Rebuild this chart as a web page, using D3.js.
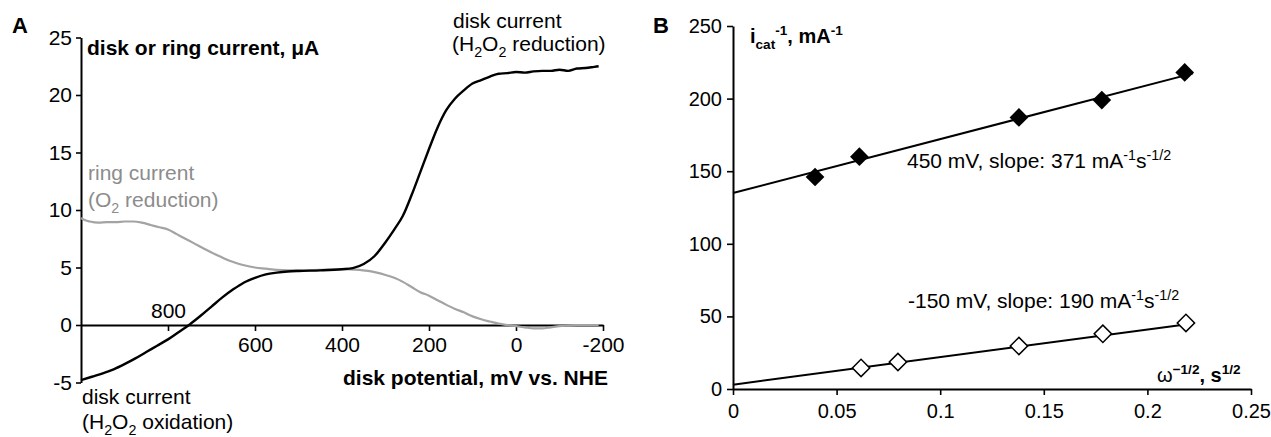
<!DOCTYPE html>
<html>
<head>
<meta charset="utf-8">
<script src="https://cdn.jsdelivr.net/npm/d3@7"></script>
<style>
  body { margin: 0; background: #fff; }
  svg { font-family: "Liberation Sans", Arial, sans-serif; }
</style>
</head>
<body>
<div id="chart"></div>
<script>
// ---- panel A: disk potential (mV vs NHE) and currents (uA)
var diskPotential = [1000, 975, 950, 925, 900, 875, 850, 825, 800, 775, 750, 725, 700, 675, 650, 625, 600, 575, 550, 525, 500, 450, 400, 375, 350, 325, 300, 280, 260, 240, 220, 200, 180, 160, 140, 120, 100, 80, 60, 40, 20, 0, -20, -40, -60, -80, -100, -120, -140, -160, -180, -190];
var diskCurrent = [-4.8, -4.5, -4.2, -3.85, -3.4, -2.9, -2.35, -1.8, -1.25, -0.6, 0.05, 0.8, 1.6, 2.4, 3.1, 3.7, 4.1, 4.4, 4.55, 4.65, 4.7, 4.75, 4.85, 4.95, 5.3, 6.0, 7.2, 8.3, 9.5, 11.3, 13.3, 15.3, 17.2, 18.7, 19.7, 20.4, 21.0, 21.3, 21.6, 21.85, 21.9, 22.0, 21.95, 22.05, 22.1, 22.1, 22.2, 22.1, 22.3, 22.35, 22.45, 22.5];

var ringPotential = [1000, 990, 980, 960, 940, 920, 900, 880, 860, 840, 820, 800, 780, 760, 740, 720, 700, 680, 660, 640, 620, 600, 575, 550, 500, 450, 400, 360, 340, 320, 300, 280, 260, 240, 220, 200, 180, 160, 140, 120, 100, 80, 60, 40, 20, 0, -20, -40, -60, -80, -100, -120, -140, -190];
var ringCurrent = [9.3, 9.1, 9.0, 8.9, 8.95, 8.95, 9.0, 9.0, 8.9, 8.7, 8.5, 8.3, 7.9, 7.5, 7.1, 6.7, 6.3, 5.95, 5.6, 5.35, 5.15, 5.0, 4.9, 4.8, 4.75, 4.8, 4.85, 4.8, 4.7, 4.55, 4.35, 4.1, 3.75, 3.3, 2.85, 2.55, 2.15, 1.75, 1.4, 1.1, 0.75, 0.5, 0.3, 0.12, 0.0, -0.1, -0.2, -0.3, -0.3, -0.2, -0.1, -0.05, 0, 0];

var aXTicks = [800, 600, 400, 200, 0, -200];
var aYTicks = [-5, 0, 5, 10, 15, 20, 25];

// ---- panel B: Koutecky-Levich plot
var omega450 = [0.0396, 0.061, 0.138, 0.178, 0.218];
var inv450 = [146, 160, 187, 199, 218];
var omega150 = [0.0618, 0.0796, 0.138, 0.1785, 0.2186];
var inv150 = [14.5, 18.6, 29.6, 38, 45.5];
var fitIntercept = [135, 3];     // 450 mV, -150 mV
var fitSlope = [371, 190];
var fitEnd = 0.222;

var bXTicks = [0, 0.05, 0.1, 0.15, 0.2, 0.25];
var bYTicks = [0, 50, 100, 150, 200, 250];

var W = 1271, H = 437;
var svg = d3.select("#chart").append("svg")
    .attr("width", W)
    .attr("height", H);

// helper for text with sub/superscripts: parts = [[text, "n"|"sub"|"sup"], ...]
function richText(g, x, y, parts, size, weight, fill) {
    var t = g.append("text")
        .attr("x", x)
        .attr("y", y)
        .attr("font-size", size + "px")
        .attr("font-weight", weight)
        .attr("fill", fill || "#000");
    var shift = 0;
    parts.forEach(function(p) {
        var target = p[1] == "sub" ? size * 0.3 : (p[1] == "sup" ? -size * 0.4 : 0);
        t.append("tspan")
            .attr("dy", target - shift)
            .attr("font-size", (p[1] == "n" ? size : size * 0.68) + "px")
            .attr("font-weight", p[2] || null)
            .text(p[0]);
        shift = target;
    });
    return t;
}

function styleAxis(g, size) {
    g.select(".domain").attr("stroke", "#000").attr("stroke-width", 2);
    g.selectAll(".tick line").attr("stroke", "#000").attr("stroke-width", 1.6);
    g.selectAll(".tick text")
        .attr("fill", "#000")
        .attr("font-size", size + "px")
        .attr("font-family", "Liberation Sans, Arial, sans-serif");
}

// plain hyphen for negatives, like the original figure
var plain = function(d) { return String(d); };

// ================= panel A =================
var xA = d3.scaleLinear().domain([1000, -200]).range([81, 603]);
var yA = d3.scaleLinear().domain([-5, 25]).range([382.5, 37.5]);

var gA = svg.append("g");

var axAy = gA.append("g")
    .attr("transform", "translate(" + xA(1000) + ",0)")
    .call(d3.axisLeft(yA).tickValues(aYTicks).tickSize(5).tickSizeOuter(0).tickPadding(4).tickFormat(plain));
styleAxis(axAy, 21);

var axAx = gA.append("g")
    .attr("transform", "translate(0," + yA(0) + ")")
    .call(d3.axisBottom(xA).tickValues(aXTicks).tickSize(6).tickSizeOuter(0).tickPadding(6).tickFormat(plain));
styleAxis(axAx, 21);
// the 800 label sits above the axis
axAx.selectAll(".tick text").filter(function(d) { return d == 800; })
    .attr("y", -7).attr("dy", 0);

var lineA = d3.line().curve(d3.curveMonotoneX);

gA.append("path")
    .attr("d", lineA(ringPotential.map(function(p, i) { return [xA(p), yA(ringCurrent[i])]; })))
    .attr("fill", "none")
    .attr("stroke", "#a3a3a3")
    .attr("stroke-width", 2.2);

gA.append("path")
    .attr("d", lineA(diskPotential.map(function(p, i) { return [xA(p), yA(diskCurrent[i])]; })))
    .attr("fill", "none")
    .attr("stroke", "#000")
    .attr("stroke-width", 2.4);

// labels
gA.append("text").attr("x", 12).attr("y", 33)
    .attr("font-size", "22px").attr("font-weight", "bold").text("A");
gA.append("text").attr("x", 87).attr("y", 55)
    .attr("font-size", "21px").attr("font-weight", "bold").text("disk or ring current, \u03bcA");
gA.append("text").attr("x", 343).attr("y", 385)
    .attr("font-size", "21px").attr("font-weight", "bold").text("disk potential, mV vs. NHE");

gA.append("text").attr("x", 88).attr("y", 180)
    .attr("font-size", "21px").attr("fill", "#8c8c8c").text("ring current");
richText(gA, 88, 207, [["(O", "n"], ["2", "sub"], [" reduction)", "n"]], 21, "normal", "#8c8c8c");

gA.append("text").attr("x", 453).attr("y", 28)
    .attr("font-size", "21px").text("disk current");
richText(gA, 452, 51, [["(H", "n"], ["2", "sub"], ["O", "n"], ["2", "sub"], [" reduction)", "n"]], 21, "normal");

gA.append("text").attr("x", 82).attr("y", 404)
    .attr("font-size", "21px").text("disk current");
richText(gA, 82, 429, [["(H", "n"], ["2", "sub"], ["O", "n"], ["2", "sub"], [" oxidation)", "n"]], 21, "normal");

// ================= panel B =================
var xB = d3.scaleLinear().domain([0, 0.25]).range([733, 1251]);
var yB = d3.scaleLinear().domain([0, 250]).range([389, 26]);

var gB = svg.append("g");

var axBy = gB.append("g")
    .attr("transform", "translate(" + xB(0) + ",0)")
    .call(d3.axisLeft(yB).tickValues(bYTicks).tickSize(6).tickSizeOuter(0).tickPadding(5));
styleAxis(axBy, 20);

var axBx = gB.append("g")
    .attr("transform", "translate(0," + yB(0) + ")")
    .call(d3.axisBottom(xB).tickValues(bXTicks).tickSize(6).tickSizeOuter(0).tickPadding(9).tickFormat(plain));
styleAxis(axBx, 20);

// fit lines
[0, 1].forEach(function(k) {
    gB.append("line")
        .attr("x1", xB(0)).attr("y1", yB(fitIntercept[k]))
        .attr("x2", xB(fitEnd)).attr("y2", yB(fitIntercept[k] + fitSlope[k] * fitEnd))
        .attr("stroke", "#000")
        .attr("stroke-width", 2);
});

var diamond = d3.symbol().type(d3.symbolSquare).size(175);

gB.selectAll(".filled")
    .data(omega450)
    .enter()
    .append("path")
        .attr("class", "filled")
        .attr("d", diamond)
        .attr("transform", function(d, i) { return "translate(" + xB(d) + "," + yB(inv450[i]) + ") rotate(45)"; })
        .attr("fill", "#000");

gB.selectAll(".open")
    .data(omega150)
    .enter()
    .append("path")
        .attr("class", "open")
        .attr("d", d3.symbol().type(d3.symbolSquare).size(150))
        .attr("transform", function(d, i) { return "translate(" + xB(d) + "," + yB(inv150[i]) + ") rotate(45)"; })
        .attr("fill", "#fff")
        .attr("stroke", "#000")
        .attr("stroke-width", 1.5);

// labels
gB.append("text").attr("x", 653).attr("y", 33)
    .attr("font-size", "22px").attr("font-weight", "bold").text("B");
richText(gB, 750, 43, [["i", "n"], ["cat", "sub"], ["-1", "sup"], [", mA", "n"], ["-1", "sup"]], 20, "bold");
richText(gB, 907, 168, [["450 mV, slope: 371 mA", "n"], ["-1", "sup"], ["s", "n"], ["-1/2", "sup"]], 21, "normal");
richText(gB, 908, 308, [["-150 mV, slope: 190 mA", "n"], ["-1", "sup"], ["s", "n"], ["-1/2", "sup"]], 21, "normal");
richText(gB, 1157, 382, [["\u03c9", "n", "normal"], ["\u22121/2", "sup"], [", s", "n"], ["1/2", "sup"]], 20, "bold");
</script>
</body>
</html>
